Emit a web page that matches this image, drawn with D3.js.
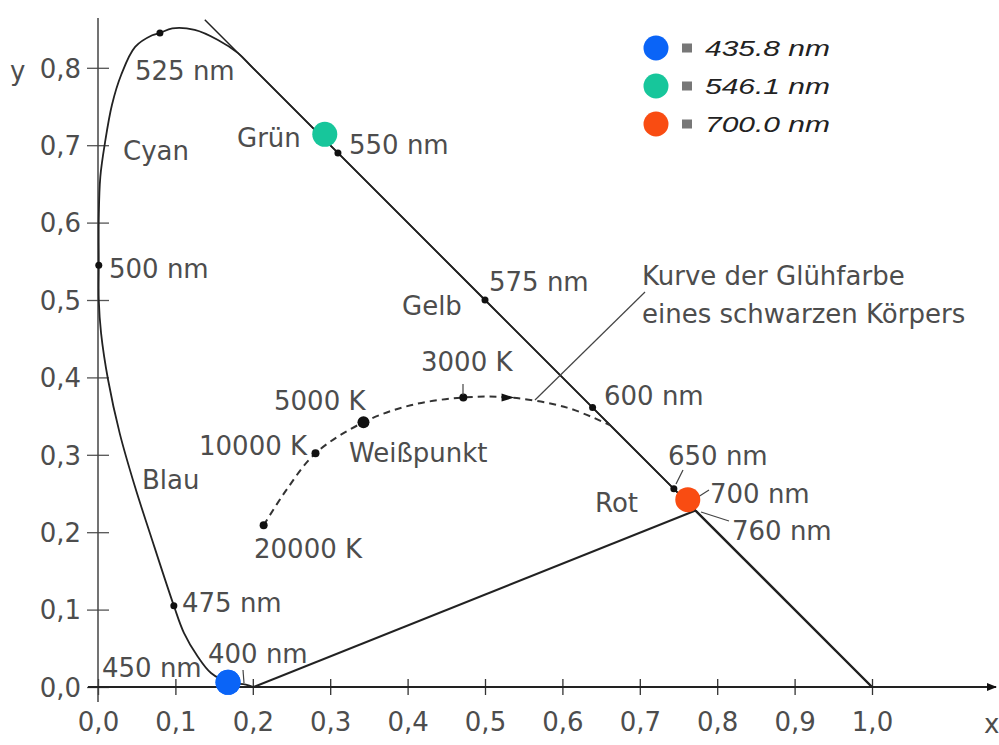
<!DOCTYPE html>
<html>
<head>
<meta charset="utf-8">
<script src="https://cdn.jsdelivr.net/npm/d3@7"></script>
<style>
  body { margin: 0; background: #fff; }
  svg text { font-family: "DejaVu Sans", sans-serif; fill: #4d4d4d; }
</style>
</head>
<body>
<div id="chart"></div>
<script>
// chromaticity values
var locusX = [0.201, 0.191, 0.169, 0.146, 0.129, 0.111, 0.098, 0.067, 0.048, 0.028, 0.013, 0.004, 0.001, 0.001,
  0.001, 0.003, 0.009, 0.018, 0.030, 0.048, 0.070, 0.080, 0.096, 0.125, 0.155, 0.181, 0.200, 0.310, 0.500, 0.639,
  0.744, 0.760, 0.772];
var locusY = [0.000, 0.003, 0.006, 0.018, 0.039, 0.070, 0.105, 0.199, 0.258, 0.328, 0.397, 0.457, 0.500, 0.545,
  0.606, 0.659, 0.703, 0.752, 0.791, 0.827, 0.842, 0.845, 0.851, 0.849, 0.836, 0.819, 0.800, 0.690, 0.500, 0.361,
  0.256, 0.240, 0.228];

// wavelength markers on the locus
var nmMarks = [475, 500, 525, 550, 575, 600, 650];
var nmX = [0.098, 0.001, 0.080, 0.310, 0.500, 0.639, 0.744];
var nmY = [0.105, 0.545, 0.845, 0.690, 0.500, 0.361, 0.256];

// black body curve
var planckX = [0.214, 0.243, 0.281, 0.343, 0.404, 0.472, 0.533, 0.606, 0.662];
var planckY = [0.209, 0.254, 0.302, 0.342, 0.364, 0.374, 0.374, 0.361, 0.338];
var tempMarks = ["20000 K", "10000 K", "5000 K", "3000 K"];
var tempX = [0.214, 0.281, 0.343, 0.472];
var tempY = [0.209, 0.302, 0.342, 0.374];

// reference primaries
var primNames = ["435.8 nm", "546.1 nm", "700.0 nm"];
var primX = [0.168, 0.293, 0.762];
var primY = [0.006, 0.714, 0.242];
var primColors = ["#0a64f7", "#17c69b", "#f94c12"];

var xTicks = [0, 0.1, 0.2, 0.3, 0.4, 0.5, 0.6, 0.7, 0.8, 0.9, 1.0];
var yTicks = [0, 0.1, 0.2, 0.3, 0.4, 0.5, 0.6, 0.7, 0.8];

var width = 999, height = 745;
var x = d3.scaleLinear().domain([0, 1]).range([98, 872]);
var y = d3.scaleLinear().domain([0, 1]).range([687, -87]);
var fmt = function (d) { return d3.format(".1f")(d).replace(".", ","); };

var svg = d3.select("#chart").append("svg").attr("width", width).attr("height", height);

svg.append("defs").append("marker").attr("id", "arr").attr("viewBox", "0 0 10 10")
  .attr("refX", 9).attr("refY", 5).attr("markerWidth", 10).attr("markerHeight", 10)
  .attr("markerUnits", "userSpaceOnUse").attr("orient", "auto")
  .append("path").attr("d", "M0,1 L10,5 L0,9 Z").attr("fill", "#111");

// axes
var gy = svg.append("g").attr("transform", "translate(" + x(0) + ",0)")
  .call(d3.axisLeft(y).tickValues(yTicks).tickFormat(fmt).tickSize(11).tickPadding(6));
gy.select(".domain").remove();
gy.selectAll(".tick line").attr("x1", -11).attr("x2", 11).attr("stroke", "#555").attr("stroke-width", 1.3);
gy.selectAll(".tick text").attr("font-size", 26).attr("font-family", "DejaVu Sans").attr("dy", "0.36em");

var gx = svg.append("g").attr("transform", "translate(0," + y(0) + ")")
  .call(d3.axisBottom(x).tickValues(xTicks).tickFormat(fmt).tickSize(8).tickPadding(18));
gx.select(".domain").remove();
gx.selectAll(".tick line").attr("y1", -8).attr("y2", 8).attr("stroke", "#333").attr("stroke-width", 1.3);
gx.selectAll(".tick text").attr("font-size", 26).attr("font-family", "DejaVu Sans");

svg.append("line").attr("x1", x(0)).attr("x2", x(0)).attr("y1", 18).attr("y2", 702)
  .attr("stroke", "#444").attr("stroke-width", 1.5);
svg.append("line").attr("x1", 88).attr("x2", 996).attr("y1", y(0)).attr("y2", y(0))
  .attr("stroke", "#222").attr("stroke-width", 2).attr("marker-end", "url(#arr)");
svg.append("text").attr("x", 10).attr("y", 80).attr("font-size", 26).text("y");
svg.append("text").attr("x", 984).attr("y", 733).attr("font-size", 26).text("x");

// x + y = 1
svg.append("line").attr("x1", x(1 - 0.862)).attr("y1", y(0.862)).attr("x2", x(1)).attr("y2", y(0))
  .attr("stroke", "#222").attr("stroke-width", 1.5);
var last = locusX.length - 1;
svg.append("line").attr("x1", x(locusX[last])).attr("y1", y(locusY[last])).attr("x2", x(1)).attr("y2", y(0))
  .attr("stroke", "#222").attr("stroke-width", 2.4);

// spectral locus
var locus = locusX.map(function (d, i) { return [d, locusY[i]]; });
var line = d3.line().x(function (d) { return x(d[0]); }).y(function (d) { return y(d[1]); });
svg.append("path").attr("d", line.curve(d3.curveCatmullRom.alpha(0.5))(locus))
  .attr("fill", "none").attr("stroke", "#222").attr("stroke-width", 1.8);

// line of purples
svg.append("line").attr("x1", x(locusX[0])).attr("y1", y(locusY[0]))
  .attr("x2", x(locusX[last])).attr("y2", y(locusY[last]))
  .attr("stroke", "#222").attr("stroke-width", 2);

svg.append("g").selectAll("circle").data(nmMarks).enter().append("circle")
  .attr("cx", function (d, i) { return x(nmX[i]); }).attr("cy", function (d, i) { return y(nmY[i]); })
  .attr("r", 3.5).attr("fill", "#111");

// black body curve
var planck = planckX.map(function (d, i) { return [d, planckY[i]]; });
svg.append("path").attr("d", d3.line().x(function (d) { return x(d[0]); }).y(function (d) { return y(d[1]); })
    .curve(d3.curveCatmullRom.alpha(0.5))(planck))
  .attr("fill", "none").attr("stroke", "#333").attr("stroke-width", 2).attr("stroke-dasharray", "7,5");
svg.append("g").selectAll("circle").data(tempMarks).enter().append("circle")
  .attr("cx", function (d, i) { return x(tempX[i]); }).attr("cy", function (d, i) { return y(tempY[i]); })
  .attr("r", function (d, i) { return i == 2 ? 6 : 4; }).attr("fill", "#111");
svg.append("path").attr("d", "M" + (x(0.533) - 9) + "," + (y(0.374) - 4) + " L" + (x(0.533) + 4) + "," + y(0.374) +
  " L" + (x(0.533) - 9) + "," + (y(0.374) + 4) + " Z").attr("fill", "#111");

// annotation leader lines
var leaders = [[645, 292, 535, 400], [463, 384, 463, 395], [683, 470, 676, 484], [709, 490, 698, 497],
  [729, 521, 701, 512], [243, 670, 244, 683]];
svg.append("g").selectAll("line").data(leaders).enter().append("line")
  .attr("x1", function (d) { return d[0]; }).attr("y1", function (d) { return d[1]; })
  .attr("x2", function (d) { return d[2]; }).attr("y2", function (d) { return d[3]; })
  .attr("stroke", "#444").attr("stroke-width", 1.2);

// primaries
svg.append("g").selectAll("circle").data(primNames).enter().append("circle")
  .attr("cx", function (d, i) { return x(primX[i]); }).attr("cy", function (d, i) { return y(primY[i]); })
  .attr("r", 12.5).attr("fill", function (d, i) { return primColors[i]; });

// labels
var labels = [
  ["525 nm", 135, 80], ["Cyan", 123, 160], ["Grün", 237, 147], ["550 nm", 349, 154], ["500 nm", 109, 278],
  ["575 nm", 489, 291], ["Gelb", 402, 315], ["Kurve der Glühfarbe", 642, 285], ["eines schwarzen Körpers", 642, 323],
  ["3000 K", 421, 371], ["5000 K", 274, 410], ["600 nm", 604, 405], ["10000 K", 199, 455], ["Weißpunkt", 349, 462],
  ["650 nm", 668, 465], ["Blau", 142, 489], ["700 nm", 710, 503], ["Rot", 595, 512], ["760 nm", 732, 540],
  ["20000 K", 254, 558], ["475 nm", 182, 612], ["400 nm", 208, 663], ["450 nm", 102, 677]
];
svg.append("g").selectAll("text").data(labels).enter().append("text")
  .attr("x", function (d) { return d[1]; }).attr("y", function (d) { return d[2]; })
  .attr("font-size", 26).text(function (d) { return d[0]; });
// the blue point sits over the 450 nm label
svg.append("circle").attr("cx", x(primX[0])).attr("cy", y(primY[0])).attr("r", 12.5).attr("fill", primColors[0]);

// legend
var legend = svg.append("g").selectAll("g").data(primNames).enter().append("g")
  .attr("transform", function (d, i) { return "translate(656," + (48 + i * 38) + ")"; });
legend.append("circle").attr("r", 12.5).attr("fill", function (d, i) { return primColors[i]; });
legend.append("rect").attr("x", 26).attr("y", -4.5).attr("width", 10).attr("height", 9).attr("fill", "#777");
legend.append("text").attr("x", 49).attr("y", 8).attr("font-size", 22).attr("font-style", "italic")
  .style("font-family", "Liberation Sans, Arial, sans-serif").style("fill", "#222")
  .attr("textLength", 125).attr("lengthAdjust", "spacingAndGlyphs").text(function (d) { return d; });
</script>
</body>
</html>
